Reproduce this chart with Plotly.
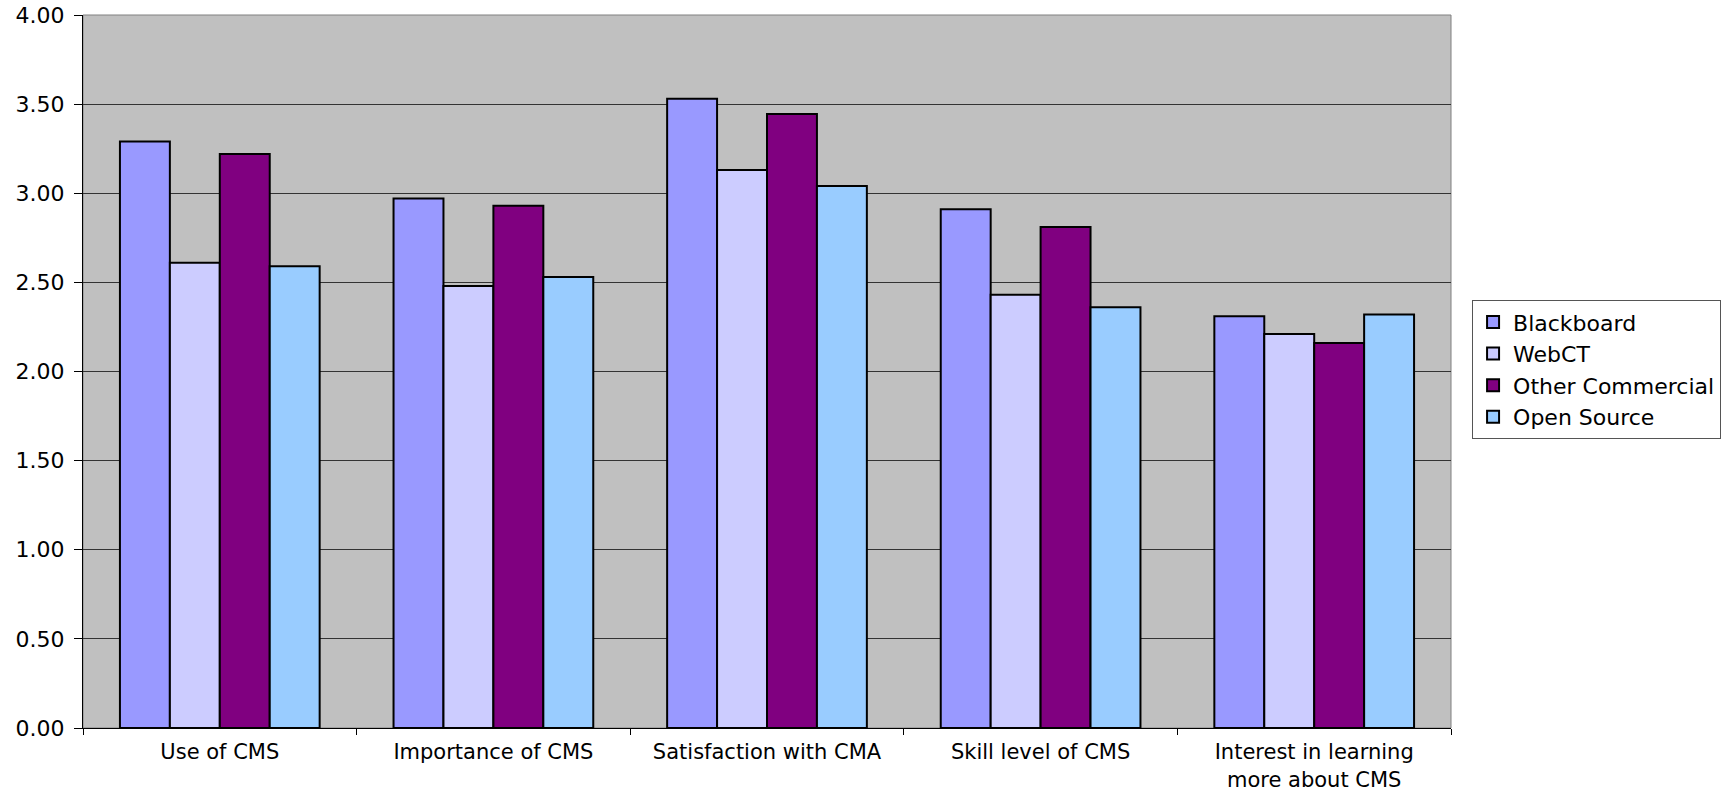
import plotly.graph_objects as go

categories = ["Use of CMS", "Importance of CMS", "Satisfaction with CMA",
              "Skill level of CMS", "Interest in learning<br>more about CMS"]
blackboard = [3.29, 2.97, 3.53, 2.91, 2.31]
webct = [2.61, 2.48, 3.13, 2.43, 2.21]
other_commercial = [3.22, 2.93, 3.445, 2.81, 2.16]
open_source = [2.59, 2.53, 3.04, 2.36, 2.32]

series = [
    ("Blackboard", blackboard, "#9999FF"),
    ("WebCT", webct, "#CCCCFF"),
    ("Other Commercial", other_commercial, "#800080"),
    ("Open Source", open_source, "#99CCFF"),
]

fig = go.Figure()
for name, vals, color in series:
    fig.add_trace(go.Bar(
        x=categories, y=vals, name=name,
        marker=dict(color=color, line=dict(color="black", width=2)),
    ))

family = "DejaVu Sans, Liberation Sans, Arial, sans-serif"
yfont = dict(family=family, size=22, color="black")
xfont = dict(family=family, size=21, color="black")
lfont = dict(family=family, size=22, color="black")

fig.update_layout(
    width=1725, height=793,
    margin=dict(l=83, r=274, t=15, b=65, autoexpand=False),
    paper_bgcolor="white",
    plot_bgcolor="#C0C0C0",
    barmode="group",
    bargap=0.27,
    bargroupgap=0,
    font=yfont,
    showlegend=True,
    legend=dict(
        x=1.0154, y=0.60, xanchor="left", yanchor="top",
        bordercolor="#555555", borderwidth=1,
        bgcolor="white", font=lfont,
        traceorder="normal", itemwidth=30,
    ),
    xaxis=dict(
        showline=True, linecolor="black", linewidth=1,
        ticks="outside", ticklen=6, tickcolor="black",
        tickson="boundaries", showgrid=False,
        tickfont=xfont, automargin=False, ticklabelstandoff=5,
    ),
    yaxis=dict(
        range=[0, 4], dtick=0.5, tickformat=".2f",
        showline=True, linecolor="black", linewidth=1,
        ticks="outside", ticklen=8, tickcolor="black",
        showgrid=True, gridcolor="#333333", gridwidth=1,
        zeroline=False, tickfont=yfont, automargin=False,
        ticklabelstandoff=5,
    ),
)

fig.add_shape(type="rect", xref="paper", yref="paper", x0=0, x1=1, y0=0, y1=1,
              line=dict(color="#808080", width=1), layer="below")

fig.write_html("out.html")
